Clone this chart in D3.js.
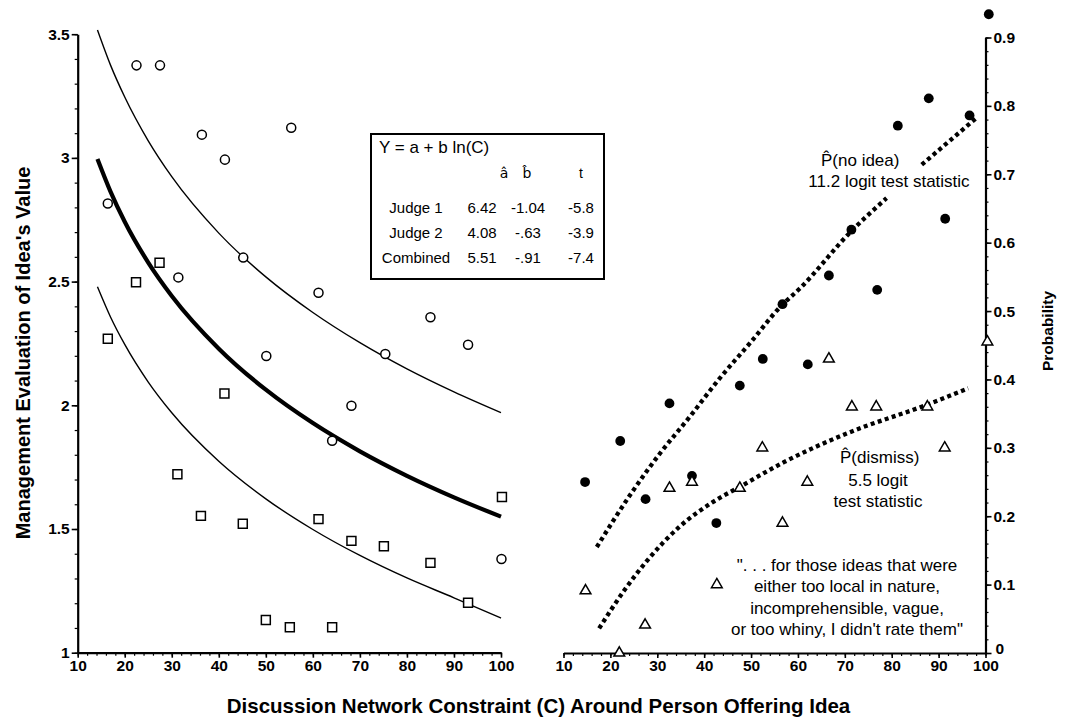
<!DOCTYPE html>
<html>
<head>
<meta charset="utf-8">
<script src="https://cdn.jsdelivr.net/npm/d3@7"></script>
<style>
	body { margin: 0; background: #fff; }
	text { font-family: "Liberation Sans", Arial, sans-serif; fill: #000; }
	.tick text { font-family: "Liberation Sans Narrow", "Arial Narrow", "Liberation Sans", sans-serif; font-size: 15.5px; font-weight: bold; }
	.hat { font-family: "DejaVu Sans", "Liberation Sans", sans-serif; }
</style>
</head>
<body>
<svg id="chart" width="1066" height="721"></svg>
<script>
"use strict";

// left panel: judge 1 ratings (open circles)
const judge1C = [22.5, 27.5, 36.4, 55.4, 41.3, 16.4, 45.2, 31.4, 61.2, 50.1, 85.0, 93.0, 75.4, 68.2, 64.1, 100.1];
const judge1Y = [3.374, 3.374, 3.094, 3.122, 2.993, 2.816, 2.597, 2.517, 2.455, 2.199, 2.356, 2.245, 2.207, 1.998, 1.857, 1.379];

// left panel: judge 2 ratings (open squares)
const judge2C = [16.4, 22.4, 27.4, 41.2, 31.2, 36.2, 45.1, 61.2, 68.2, 75.1, 85.0, 93.0, 100.2, 50.0, 55.1, 64.1];
const judge2Y = [2.269, 2.497, 2.576, 2.048, 1.721, 1.553, 1.521, 1.540, 1.452, 1.430, 1.363, 1.202, 1.629, 1.132, 1.103, 1.103];

// fitted log curves
const fitC = [14.2, 17, 20, 25, 30, 40, 50, 60, 70, 80, 90, 100];
const judge1Fit = [3.517, 3.374, 3.246, 3.069, 2.924, 2.696, 2.519, 2.375, 2.253, 2.147, 2.054, 1.970];
const combinedFit = [2.996, 2.863, 2.742, 2.577, 2.442, 2.229, 2.063, 1.928, 1.814, 1.715, 1.628, 1.550];
const judge2Fit = [2.479, 2.356, 2.246, 2.094, 1.970, 1.774, 1.622, 1.498, 1.393, 1.302, 1.222, 1.140];

// inset table
const tableHead = ["a\u0302", "b\u0302", "t"];
const tableRows = ["Judge 1", "Judge 2", "Combined"];
const tableA = ["6.42", "4.08", "5.51"];
const tableB = ["-1.04", "-.63", "-.91"];
const tableT = ["-5.8", "-3.9", "-7.4"];

// right panel: probability of no idea (filled circles)
const noIdeaC = [100.7, 87.9, 81.3, 96.6, 91.4, 71.4, 66.6, 76.9, 56.7, 52.5, 62.1, 47.6, 32.6, 22.1, 14.6, 37.4, 27.5, 42.6];
const noIdeaP = [0.934, 0.811, 0.771, 0.786, 0.635, 0.619, 0.552, 0.531, 0.510, 0.430, 0.422, 0.391, 0.365, 0.310, 0.250, 0.259, 0.225, 0.190];

// right panel: probability of dismissal (open triangles)
const dismissC = [100.4, 66.6, 71.5, 76.7, 87.6, 91.3, 52.4, 62.0, 37.4, 32.6, 47.6, 56.7, 14.7, 42.7, 27.4, 21.9];
const dismissP = [0.455, 0.430, 0.360, 0.360, 0.360, 0.300, 0.300, 0.250, 0.250, 0.241, 0.241, 0.190, 0.091, 0.100, 0.041, 0.0];

// logit fits (dotted), no-idea line is broken around its label
const noIdeaFitC = [17.1, 24.2, 30.6, 37.0, 43.0, 50.0, 56.2, 60.4, 71.4, 78.9, 86.4, 98.0];
const noIdeaFitP = [0.155, 0.231, 0.292, 0.346, 0.399, 0.455, 0.506, 0.533, 0.617, 0.665, 0.714, 0.782];
const noIdeaGap = [78.9, 86.4];
const dismissFitC = [17.6, 22.8, 27.7, 34.8, 41.9, 47.6, 57.0, 70.4, 87.5, 96.3];
const dismissFitP = [0.036, 0.090, 0.134, 0.185, 0.221, 0.243, 0.279, 0.321, 0.363, 0.387];

const quoteLines = [
	"\". . . for those ideas that were",
	"either too local in nature,",
	"incomprehensible, vague,",
	"or too whiny, I didn't rate them\""
];

(function() {
	const svg = d3.select("#chart");

	const xL = d3.scaleLinear().domain([10, 100]).range([77.7, 501]);
	const yL = d3.scaleLinear().domain([1, 3.5]).range([652.7, 34.2]);
	const xR = d3.scaleLinear().domain([10, 100]).range([563.5, 985.5]);
	const yR = d3.scaleLinear().domain([0, 0.9]).range([653, 37.5]);

	// draw one axis with major + minor ticks
	function drawAxis(axisFn, scale, major, minor, tick, fmt, transform) {
		svg.append("g")
			.attr("transform", transform)
			.call(axisFn(scale).tickValues(minor).tickSize(3).tickFormat(""))
			.call(g => g.select(".domain").remove())
			.selectAll("line").attr("stroke-width", 1.2);
		const g = svg.append("g")
			.attr("transform", transform)
			.call(axisFn(scale).tickValues(major).tickSize(tick).tickSizeOuter(0).tickPadding(2).tickFormat(fmt));
		g.select(".domain").attr("stroke-width", 2.2);
		g.selectAll(".tick line").attr("stroke-width", 1.6);
		return g;
	}

	const xTicks = d3.range(10, 101, 10);
	const xMinor = d3.range(10, 101, 2);

	drawAxis(d3.axisLeft, yL, [1, 1.5, 2, 2.5, 3, 3.5], d3.range(10, 36).map(d => d / 10), 6, d3.format(""), "translate(77.7,0)");
	drawAxis(d3.axisBottom, xL, xTicks, xMinor, 5, d3.format("d"), "translate(0,652.7)");
	drawAxis(d3.axisBottom, xR, xTicks, xMinor, 5, d3.format("d"), "translate(0,653)");
	const yAxisR = drawAxis(d3.axisRight, yR, d3.range(0, 10).map(d => d / 10), d3.range(0, 46).map(d => d / 50), 6,
		d => d === 0 ? "0" : d3.format(".1f")(d), "translate(985.5,0)");
	// lift the "0" a bit so it clears the "100" below it
	yAxisR.selectAll(".tick text").filter(d => d === 0).attr("dy", "0.05em").attr("x", 10);

	// fitted curves on the left
	const lineL = d3.line().x((d, i) => xL(fitC[i])).y(d => yL(d)).curve(d3.curveMonotoneX);
	[[judge1Fit, 1.4], [judge2Fit, 1.4], [combinedFit, 4.2]].forEach(([vals, w]) => {
		svg.append("path")
			.attr("d", lineL(vals))
			.attr("fill", "none")
			.attr("stroke", "#000")
			.attr("stroke-width", w);
	});

	// judge markers
	svg.append("g").selectAll("path").data(judge1C)
		.join("path")
		.attr("transform", (d, i) => `translate(${xL(d)},${yL(judge1Y[i])})`)
		.attr("d", d3.symbol(d3.symbolCircle, 64)())
		.attr("fill", "#fff").attr("stroke", "#000").attr("stroke-width", 1.5);

	svg.append("g").selectAll("path").data(judge2C)
		.join("path")
		.attr("transform", (d, i) => `translate(${xL(d)},${yL(judge2Y[i])})`)
		.attr("d", d3.symbol(d3.symbolSquare, 80)())
		.attr("fill", "#fff").attr("stroke", "#000").attr("stroke-width", 1.5);

	// inset table
	const tbl = svg.append("g");
	tbl.append("rect")
		.attr("x", 371).attr("y", 134).attr("width", 233).attr("height", 145)
		.attr("fill", "#fff").attr("stroke", "#000").attr("stroke-width", 2);
	tbl.append("text").attr("x", 379).attr("y", 153).style("font-size", "17px").text("Y = a + b ln(C)");
	[504, 527, 581].forEach((x, i) => {
		tbl.append("text").attr("x", x).attr("y", 178).attr("text-anchor", "middle")
			.attr("class", i < 2 ? "hat" : null)
			.style("font-size", "14px").text(tableHead[i]);
	});
	tableRows.forEach((r, i) => {
		const y = 213 + i * 25;
		[[416, r], [482, tableA[i]], [528, tableB[i]], [581, tableT[i]]].forEach(([x, s]) => {
			tbl.append("text").attr("x", x).attr("y", y).attr("text-anchor", "middle")
				.style("font-size", "15px").text(s);
		});
	});

	// dotted logit fits
	const lineR = d3.line().x(d => xR(d[0])).y(d => yR(d[1])).curve(d3.curveMonotoneX);
	const noIdeaPts = noIdeaFitC.map((c, i) => [c, noIdeaFitP[i]]);
	const dotted = [
		noIdeaPts.filter(d => d[0] <= noIdeaGap[0]),
		noIdeaPts.filter(d => d[0] >= noIdeaGap[1]),
		dismissFitC.map((c, i) => [c, dismissFitP[i]])
	];
	dotted.forEach(pts => {
		svg.append("path")
			.attr("d", lineR(pts))
			.attr("fill", "none")
			.attr("stroke", "#000")
			.attr("stroke-width", 4.3)
			.attr("stroke-dasharray", "4 3.4");
	});

	svg.append("g").selectAll("circle").data(noIdeaC)
		.join("circle")
		.attr("cx", d => xR(d))
		.attr("cy", (d, i) => yR(noIdeaP[i]))
		.attr("r", 4.9)
		.attr("fill", "#000");

	svg.append("g").selectAll("path").data(dismissC)
		.join("path")
		.attr("transform", (d, i) => `translate(${xR(d)},${yR(dismissP[i])})`)
		.attr("d", d3.symbol(d3.symbolTriangle, 50)())
		.attr("fill", "#fff").attr("stroke", "#000").attr("stroke-width", 1.5);

	// annotations
	const note = (x, y, s, anchor) => svg.append("text")
		.attr("x", x).attr("y", y)
		.attr("text-anchor", anchor || "middle")
		.style("font-size", "17px")
		.text(s);
	note(821, 165.7, "P\u0302(no idea)", "start");
	note(889, 186.7, "11.2 logit test statistic");
	note(840, 463.3, "P\u0302(dismiss)", "start");
	note(878, 486, "5.5 logit");
	note(878, 506.7, "test statistic");
	quoteLines.forEach((s, i) => note(847, 571 + i * 21.3, s));

	// axis titles
	svg.append("text")
		.attr("transform", "translate(30,353) rotate(-90)")
		.attr("text-anchor", "middle")
		.style("font-size", "20px").style("font-weight", "bold")
		.text("Management Evaluation of Idea's Value");
	svg.append("text")
		.attr("transform", "translate(1053,331) rotate(-90)")
		.attr("text-anchor", "middle")
		.style("font-size", "15.5px").style("font-weight", "bold")
		.text("Probability");
	svg.append("text")
		.attr("x", 538.5).attr("y", 713)
		.attr("text-anchor", "middle")
		.style("font-size", "20.5px").style("font-weight", "bold")
		.text("Discussion Network Constraint (C) Around Person Offering Idea");
}());
</script>
</body>
</html>
